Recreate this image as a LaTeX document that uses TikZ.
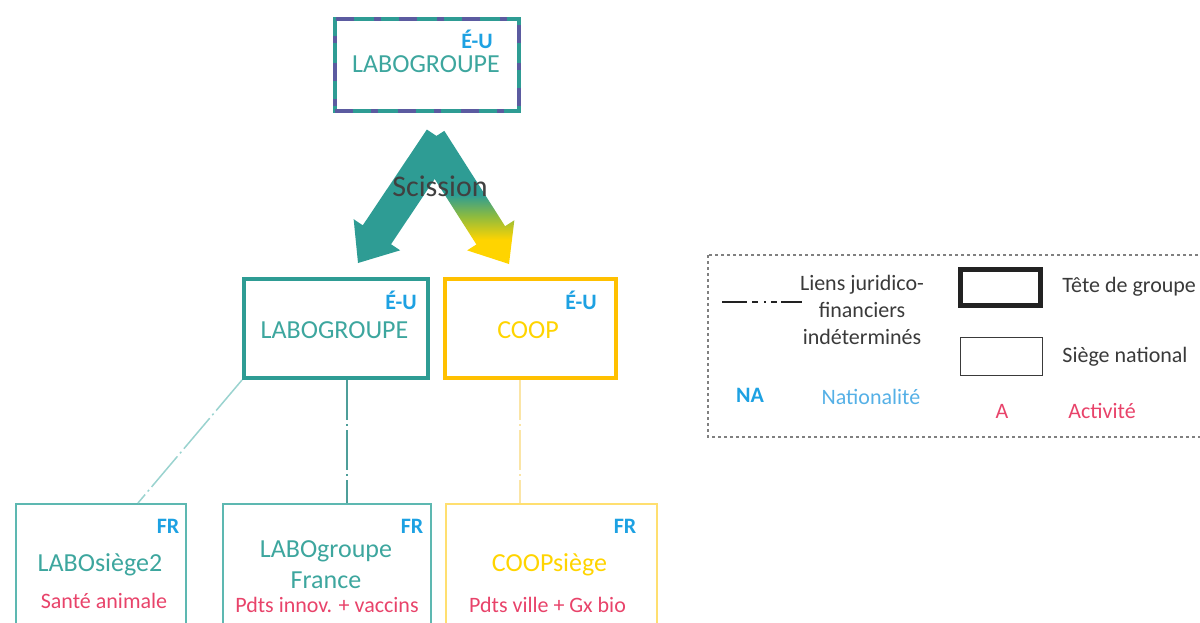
\documentclass[tikz,border=0pt]{standalone}
\usepackage{fontspec}
\setmainfont{Carlito}
\usetikzlibrary{calc}
\definecolor{labteal}{HTML}{2E9C94}
\definecolor{labtext}{HTML}{3DA69E}
\definecolor{labthin}{HTML}{5DB8B1}
\definecolor{lienteal}{HTML}{9AD3CF}
\definecolor{liendark}{HTML}{4E9E99}
\definecolor{coopor}{HTML}{FFC000}
\definecolor{coopyel}{HTML}{FFD400}
\definecolor{coopthin}{HTML}{FFDF70}
\definecolor{coopline}{HTML}{FBE5A6}
\definecolor{midgreen}{HTML}{8DBB3F}
\definecolor{grpurple}{HTML}{5B5BA0}
\definecolor{natblue}{HTML}{1DA1E2}
\definecolor{natlight}{HTML}{55B0E6}
\definecolor{actred}{HTML}{E8436A}
\definecolor{scisgray}{HTML}{404040}
\definecolor{legtext}{HTML}{3A3A3A}
\definecolor{legdark}{HTML}{222222}
\pgfdeclareverticalshading{splitshade}{100bp}{color(0bp)=(coopyel); color(34bp)=(coopyel); color(43bp)=(midgreen); color(51bp)=(labteal); color(100bp)=(labteal)}
\tikzset{
  topbox/.style={draw=labteal, line width=2.25pt, inner sep=0pt,
    postaction={draw=grpurple, line width=2.25pt, dash pattern=on 9pt off 9pt on 3.5pt off 10pt}},
  midbox/.style={draw, line width=2pt, inner sep=0pt},
  basebox/.style={draw, line width=1pt, inner sep=0pt},
  natio/.style={text=natblue, inner sep=0pt, font=\fontsize{11}{13}\selectfont\bfseries},
  entname/.style={inner sep=0pt, font=\fontsize{13}{15.5}\selectfont},
  activ/.style={text=actred, inner sep=0pt, font=\fontsize{11}{13}\selectfont},
  legtxt/.style={text=legtext, inner sep=0pt, font=\fontsize{11}{13.5}\selectfont},
  lien/.style={dash pattern=on 20pt off 2pt on 1pt off 2pt},
}
\begin{document}
\begin{tikzpicture}[x=0.5pt, y=-0.5pt, line join=miter, font=\fontsize{11}{13}\selectfont]
\useasboundingbox (0,0) rectangle (1200,622);
% scission arrows
\coordinate (sL) at (441,139);
\coordinate (tL) at (358,263);
\coordinate (sR) at (430,140);
\coordinate (tR) at (509,264);
\coordinate (bL) at ($(tL)!17pt!(sL)$);
\coordinate (bR) at ($(tR)!17pt!(sR)$);
\shade[shading=splitshade] ($(sR)!8.5pt!90:(tR)$) -- ($(bR)!8.5pt!90:(tR)$) -- ($(bR)!14pt!90:(tR)$) -- (tR)
  -- ($(bR)!14pt!-90:(tR)$) -- ($(bR)!8.5pt!-90:(tR)$) -- ($(sR)!8.5pt!-90:(tR)$) -- cycle;
\fill[labteal] ($(sL)!8.5pt!90:(tL)$) -- ($(bL)!8.5pt!90:(tL)$) -- ($(bL)!14pt!90:(tL)$) -- (tL)
  -- ($(bL)!14pt!-90:(tL)$) -- ($(bL)!8.5pt!-90:(tL)$) -- ($(sL)!8.5pt!-90:(tL)$) -- cycle;
\node[text=scisgray, font=\fontsize{15}{17}\selectfont] (scis) at (440,186) {Scission};
% groupe
\node[topbox, minimum width=92pt, minimum height=46pt] (grp) at (427,65) {};
\node[natio] (grpnat) at (477,39) {É-U};
\node[entname, text=labtext] (grpname) at (426,64) {LABOGROUPE};
% sieges E-U
\node[midbox, draw=labteal, minimum width=92pt, minimum height=49.5pt] (labo) at (336,328.5) {};
\node[natio] (labonat) at (401,300.5) {É-U};
\node[entname, text=labtext] (laboname) at (334.5,330) {LABOGROUPE};
\node[midbox, draw=coopor, minimum width=85.5pt, minimum height=49.5pt] (coop) at (530.5,328.5) {};
\node[natio] (coopnat) at (581,300.5) {É-U};
\node[entname, text=coopyel] (coopname) at (528,330) {COOP};
% sieges FR
\node[basebox, draw=labthin, minimum width=85pt, minimum height=67.5pt] (siege2) at (101,571.5) {};
\node[natio] (siege2nat) at (168,526) {FR};
\node[entname, text=labtext] (siege2name) at (100,565) {LABOsiège2};
\node[activ] (siege2act) at (104,601) {Santé animale};
\node[basebox, draw=labthin, minimum width=104pt, minimum height=67.5pt] (labfr) at (327,571.5) {};
\node[natio] (labfrnat) at (412,526) {FR};
\node[entname, text=labtext, align=center] (labfrname) at (326,565) {LABOgroupe\\France};
\node[activ] (labfract) at (327,605) {Pdts innov. + vaccins};
\node[basebox, draw=coopthin, minimum width=105.5pt, minimum height=67.5pt] (cpsiege) at (551.5,571.5) {};
\node[natio] (cpsiegenat) at (625,526) {FR};
\node[entname, text=coopyel] (cpsiegename) at (549.5,565) {COOPsiège};
\node[activ] (cpsiegeact) at (547.5,605) {Pdts ville + Gx bio};
% liens
\coordinate (lf) at (347,0);
\coordinate (cs) at (520,0);
\draw[lien, draw=lienteal, line width=0.75pt] (labo.south west) -- ($(siege2.north west)!0.715!(siege2.north east)$);
\draw[lien, draw=liendark, line width=0.75pt] (labo.south -| lf) -- (labfr.north -| lf);
\draw[lien, draw=coopline, line width=1.25pt] (coop.south -| cs) -- (cpsiege.north -| cs);
% legende
\draw[gray, line width=0.6pt, dash pattern=on 1.5pt off 1.5pt] (708,255) rectangle (1215,437);
\coordinate (la) at (722,302);
\coordinate (lb) at (802,302);
\draw[legdark, line width=0.6pt, dash pattern=on 12.5pt off 2.5pt on 3pt off 3pt on 1pt off 2.5pt on 3pt off 2pt on 11pt] (la) -- (lb);
\node[legtxt, align=center] (lientxt) at (862,310) {Liens juridico-\\financiers\\indéterminés};
\node[draw=legdark, line width=2.5pt, minimum width=40pt, minimum height=18pt, inner sep=0pt] (tete) at (1000.5,287.5) {};
\node[legtxt, anchor=west] (tetetxt) at (1062,287) {Tête de groupe};
\node[draw=legtext, line width=0.75pt, minimum width=41pt, minimum height=19pt, inner sep=0pt] (siegeleg) at (1001.5,356.5) {};
\node[legtxt, anchor=west] (siegetxt) at (1062,357) {Siège national};
\node[natio] (natleg) at (750,395) {NA};
\node[text=natlight, inner sep=0pt] (nattxt) at (871,397) {Nationalité};
\node[activ] (actleg) at (1002,411) {A};
\node[activ] (acttxt) at (1102,411) {Activité};
\end{tikzpicture}
\end{document}
